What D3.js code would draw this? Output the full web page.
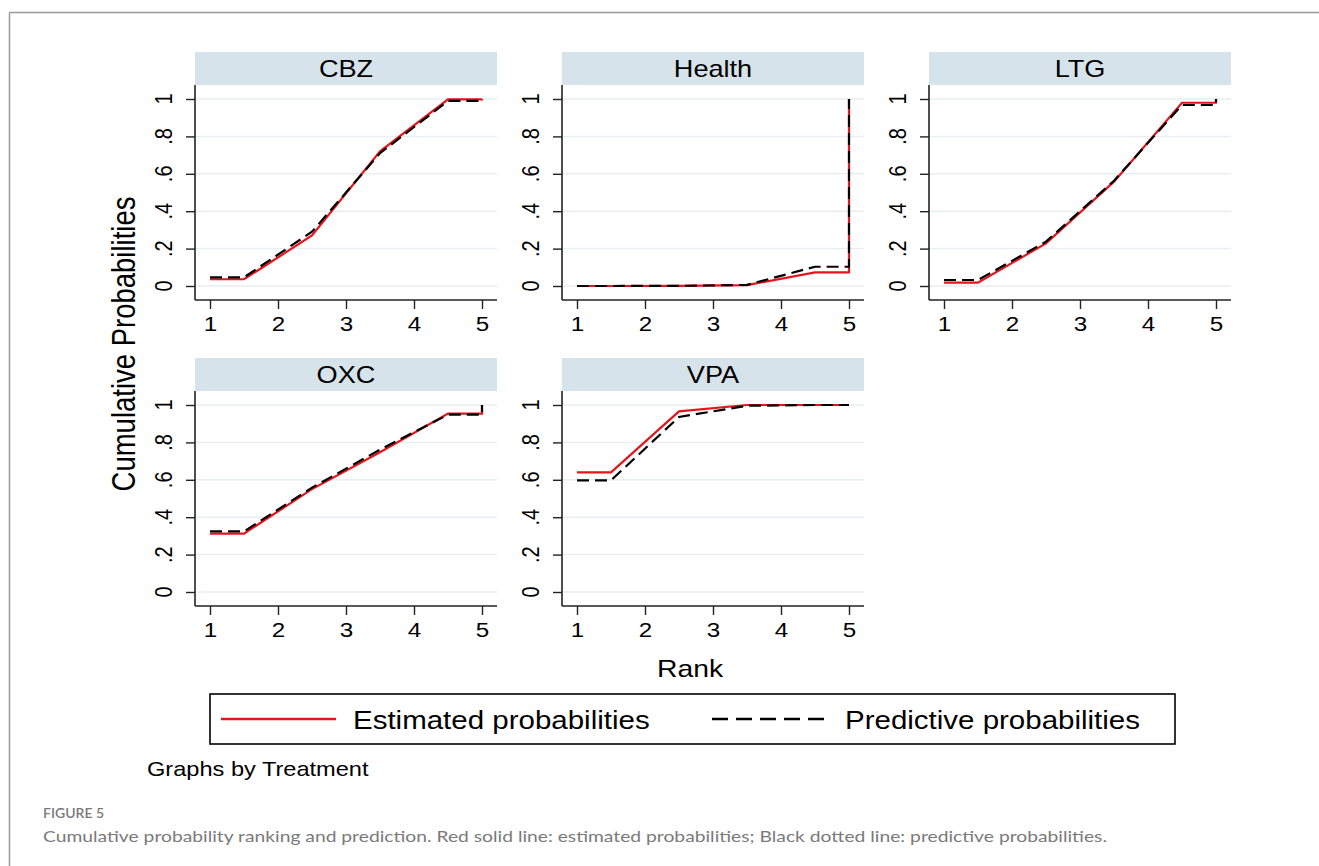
<!DOCTYPE html>
<html>
<head>
<meta charset="utf-8">
<script src="https://cdn.jsdelivr.net/npm/d3@7/dist/d3.min.js"></script>
<style>
  body { margin: 0; background: #fff; }
  svg { display: block; }
  .stata { font-family: "Liberation Sans", Arial, Helvetica, sans-serif; fill: #000; }
  .cap { font-family: Lato, "Open Sans", sans-serif; }
</style>
</head>
<body>
<svg id="chart" width="1319" height="866"></svg>
<script>

//============================================================
// Data
//------------------------------------------------------------

var treatments = ['CBZ', 'Health', 'LTG', 'OXC', 'VPA'];

// x position of each vertex of the plotted lines (rank scale)
var rankPos = [1, 1.5, 2.5, 3.5, 4.5, 5, 5];

var estCBZ    = [0.036, 0.036, 0.270, 0.720, 0.998, 0.998, 1];
var predCBZ   = [0.046, 0.046, 0.290, 0.710, 0.990, 0.990, 1];
var estHealth = [0.000, 0.000, 0.001, 0.005, 0.073, 0.073, 1];
var predHealth= [0.000, 0.000, 0.001, 0.006, 0.103, 0.103, 1];
var estLTG    = [0.018, 0.018, 0.228, 0.558, 0.980, 0.980, 1];
var predLTG   = [0.032, 0.032, 0.237, 0.563, 0.968, 0.968, 1];
var estOXC    = [0.312, 0.312, 0.550, 0.747, 0.954, 0.954, 1];
var predOXC   = [0.324, 0.324, 0.558, 0.761, 0.948, 0.948, 1];
var estVPA    = [0.640, 0.640, 0.966, 1.000, 1.000, 1.000, 1];
var predVPA   = [0.597, 0.597, 0.936, 0.996, 1.000, 1.000, 1];

var estimated  = [estCBZ, estHealth, estLTG, estOXC, estVPA];
var predictive = [predCBZ, predHealth, predLTG, predOXC, predVPA];

var xTicks = [1, 2, 3, 4, 5];
var yTicks = [0, 0.2, 0.4, 0.6, 0.8, 1];
var yTickLabels = ['0', '.2', '.4', '.6', '.8', '1'];

var legendLabels = ['Estimated probabilities', 'Predictive probabilities'];

//============================================================
// Layout
//------------------------------------------------------------

var svg = d3.select('#chart');

var colX = [195, 562, 929]
  , rowTop = [52, 358]
  , panelW = 302
  , headerH = 33
  , plotH = 215
  , sx = 1.18        // stata export is stretched horizontally
  , red = '#e8141b'
  , axisColor = '#222'
  ;

// text helper: horizontal stretch, optional rotation
function stext(g, x, y, str, size, anchor, rot) {
  return g.append('text')
      .attr('class', 'stata')
      .attr('transform', 'translate(' + x + ',' + y + ') scale(' + sx + ',1)' + (rot ? ' rotate(' + rot + ')' : ''))
      .attr('text-anchor', anchor || 'middle')
      .style('font-size', size + 'px')
      .text(str);
}

// outer frame (top + left edges only visible)
svg.append('line').attr('x1', 9.5).attr('x2', 1319).attr('y1', 12.5).attr('y2', 12.5)
    .attr('stroke', '#9a9a9a').attr('stroke-width', 1.5);
svg.append('line').attr('x1', 9.5).attr('x2', 9.5).attr('y1', 12.5).attr('y2', 866)
    .attr('stroke', '#9a9a9a').attr('stroke-width', 1.5);

//============================================================
// Panels
//------------------------------------------------------------

treatments.forEach(function(name, i) {
  var left = colX[i % 3]
    , top = rowTop[Math.floor(i / 3)]
    , plotTop = top + headerH
    , g = svg.append('g').attr('class', 'panel');

  var x = d3.scaleLinear().domain([1, 5]).range([left + 15, left + 287]);
  var y = d3.scaleLinear().domain([0, 1]).range([plotTop + 201, plotTop + 14]);

  // header strip
  g.append('rect')
      .attr('x', left).attr('y', top)
      .attr('width', panelW).attr('height', headerH)
      .attr('fill', '#d7e3ea');
  stext(g, left + panelW / 2, top + 25, name, 23, 'middle');

  // gridlines
  g.selectAll('line.grid')
      .data(yTicks)
    .enter().append('line')
      .attr('class', 'grid')
      .attr('x1', left).attr('x2', left + panelW)
      .attr('y1', function(d) { return y(d) })
      .attr('y2', function(d) { return y(d) })
      .attr('stroke', '#e7eff2')
      .attr('stroke-width', 1.5);

  // y axis (ticks from d3, labels rotated stata-style)
  var yAxis = g.append('g')
      .attr('transform', 'translate(' + left + ',0)')
      .call(d3.axisLeft(y)
        .tickValues(yTicks)
        .tickSize(9)
        .tickSizeOuter(0)
        .tickFormat(''));
  yAxis.select('.domain').remove();
  yAxis.selectAll('.tick line').attr('stroke', axisColor).attr('stroke-width', 1.4);
  yTicks.forEach(function(t, j) {
    stext(g, left - 23, y(t), yTickLabels[j], 20, 'middle', -90);
  });

  // x axis
  var xAxis = g.append('g')
      .attr('transform', 'translate(0,' + (plotTop + plotH) + ')')
      .call(d3.axisBottom(x)
        .tickValues(xTicks)
        .tickSize(9)
        .tickSizeOuter(0)
        .tickFormat(d3.format('d')));
  xAxis.select('.domain').remove();
  xAxis.selectAll('.tick line').attr('stroke', axisColor).attr('stroke-width', 1.4);
  xAxis.selectAll('.tick text')
      .attr('class', 'stata')
      .attr('y', null).attr('dy', null)
      .attr('transform', 'translate(0,31) scale(' + sx + ',1)')
      .style('font-size', '20.5px')
      .attr('fill', '#000');

  // axis lines spanning the whole plot region
  g.append('line')
      .attr('x1', left).attr('x2', left)
      .attr('y1', plotTop).attr('y2', plotTop + plotH)
      .attr('stroke', axisColor).attr('stroke-width', 1.6);
  g.append('line')
      .attr('x1', left).attr('x2', left + panelW)
      .attr('y1', plotTop + plotH).attr('y2', plotTop + plotH)
      .attr('stroke', axisColor).attr('stroke-width', 1.6);

  var line = d3.line()
      .x(function(d, j) { return x(rankPos[j]) })
      .y(function(d) { return y(d) });

  g.append('path')
      .datum(estimated[i])
      .attr('d', line)
      .attr('fill', 'none')
      .attr('stroke', red)
      .attr('stroke-width', 2.2);

  g.append('path')
      .datum(predictive[i])
      .attr('d', line)
      .attr('fill', 'none')
      .attr('stroke', '#000')
      .attr('stroke-width', 2.2)
      .attr('stroke-dasharray', '12,6');
});

//============================================================
// Axis titles
//------------------------------------------------------------

stext(svg, 135, 344, 'Cumulative Probabilities', 27.5, 'middle', -90);
stext(svg, 690, 677, 'Rank', 24, 'middle');

//============================================================
// Legend
//------------------------------------------------------------

var legend = svg.append('g').attr('class', 'legend');
legend.append('rect')
    .attr('x', 210).attr('y', 694)
    .attr('width', 965).attr('height', 50)
    .attr('fill', '#fff')
    .attr('stroke', '#000')
    .attr('stroke-width', 1.6);
legend.append('line')
    .attr('x1', 221).attr('x2', 336).attr('y1', 719).attr('y2', 719)
    .attr('stroke', red).attr('stroke-width', 2.4);
legend.append('line')
    .attr('x1', 712).attr('x2', 827).attr('y1', 719).attr('y2', 719)
    .attr('stroke', '#000').attr('stroke-width', 2.4)
    .attr('stroke-dasharray', '16,8');
stext(legend, 353, 729, legendLabels[0], 25, 'start');
stext(legend, 845, 729, legendLabels[1], 25, 'start');

stext(svg, 147, 776, 'Graphs by Treatment', 20, 'start');

//============================================================
// Figure caption
//------------------------------------------------------------

svg.append('text')
    .attr('class', 'cap')
    .attr('x', 43).attr('y', 818)
    .style('font-size', '14px')
    .style('font-weight', 600)
    .attr('fill', '#7a7a7a')
    .text('FIGURE 5');

svg.append('text')
    .attr('class', 'cap')
    .attr('x', 43).attr('y', 842)
    .attr('textLength', 1064)
    .attr('lengthAdjust', 'spacingAndGlyphs')
    .style('font-size', '16px')
    .attr('fill', '#7a7a7a')
    .text('Cumulative probability ranking and prediction. Red solid line: estimated probabilities; Black dotted line: predictive probabilities.');

</script>
</body>
</html>
